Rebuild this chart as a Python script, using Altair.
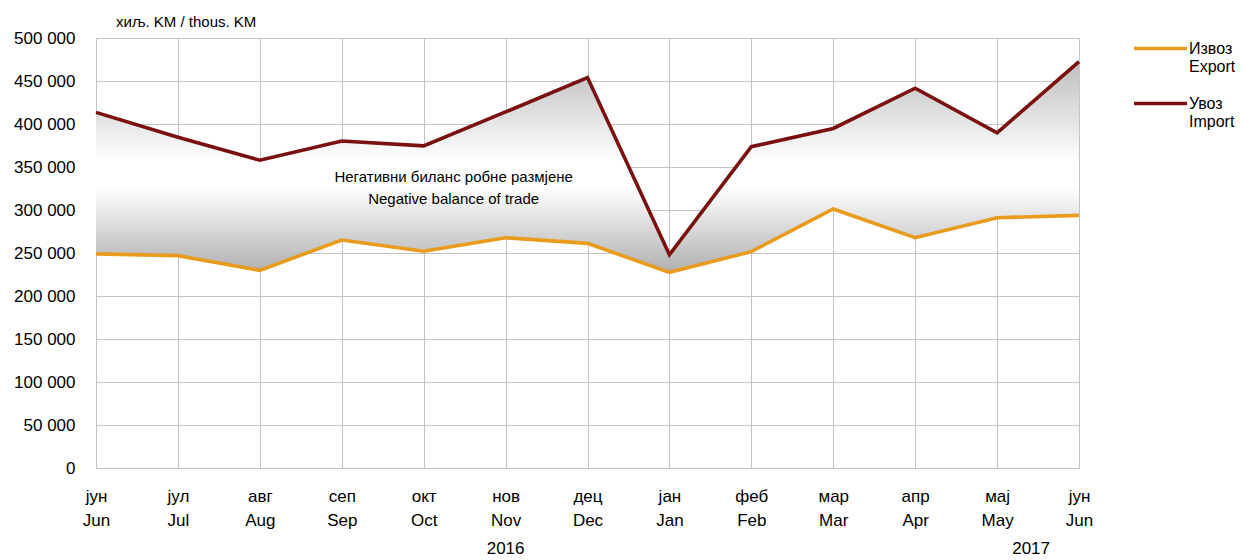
import altair as alt
import pandas as pd

months_sr = ["јун", "јул", "авг", "сеп", "окт", "нов", "дец", "јан", "феб", "мар", "апр", "мај", "јун"]
months_en = ["Jun", "Jul", "Aug", "Sep", "Oct", "Nov", "Dec", "Jan", "Feb", "Mar", "Apr", "May", "Jun"]
import_vals = [413500, 384700, 357900, 380200, 374600, 414000, 454000, 248000, 373600, 394800, 441600, 389800, 472600]
export_vals = [249000, 246900, 229800, 265100, 252000, 267800, 261200, 227500, 251600, 301200, 267800, 291000, 293800]
series_names = ["Извоз|Export", "Увоз|Import"]
series_colors = ["#E89B1C", "#7A1010"]
years = ["2016", "2017"]
year_month_idx = [5, 11]
year_dx = [0, 34]
annotation_text = "Негативни биланс робне размјене\nNegative balance of trade"
annotation_idx = 4
annotation_value = 338400
y_ticks = list(range(0, 500001, 50000))

keys = [f"{sr}|{en}|{i}" for i, (sr, en) in enumerate(zip(months_sr, months_en))]

wide = pd.DataFrame({"key": keys, "imp": import_vals, "exp": export_vals})
long = pd.DataFrame({
    "key": keys * 2,
    "value": export_vals + import_vals,
    "series": [series_names[0]] * len(keys) + [series_names[1]] * len(keys),
})
years_df = pd.DataFrame({"key": [keys[i] for i in year_month_idx], "year": years, "dx": year_dx})
ann_df = pd.DataFrame({"key": [keys[annotation_idx]], "value": [annotation_value], "text": [annotation_text]})

FONT = "Liberation Sans, Arial, sans-serif"
LBL = 17

x_enc = alt.X(
    "key:N", sort=keys,
    scale=alt.Scale(type="point", padding=0),
    axis=alt.Axis(
        title=None,
        labelExpr="[split(datum.value,'|')[0], split(datum.value,'|')[1]]",
        labelAngle=0, ticks=False, domain=False, grid=True, gridColor="#c4c4c4",
        labelFont=FONT, labelFontSize=LBL, labelColor="black",
        labelPadding=20, labelLineHeight=24, labelBaseline="top",
    ),
)
y_scale = alt.Scale(domain=[0, 500000], nice=False)
y_axis = alt.Axis(
    title=None, values=y_ticks,
    labelExpr="datum.value == 0 ? '0' : format(datum.value / 1000, 'd') + ' 000'",
    ticks=False, domain=False, grid=True, gridColor="#c4c4c4",
    labelFont=FONT, labelFontSize=LBL, labelColor="black", labelPadding=21,
)

gradient = alt.LinearGradient(
    gradient="linear",
    stops=[
        alt.GradientStop(offset=0, color="#bdbdbd"),
        alt.GradientStop(offset=0.47, color="#ffffff"),
        alt.GradientStop(offset=0.6, color="#ffffff"),
        alt.GradientStop(offset=1, color="#afafaf"),
    ],
    x1=0, x2=0, y1=0, y2=1,
)

area = alt.Chart(wide).mark_area(color=gradient, opacity=1).encode(
    x=x_enc,
    y=alt.Y("imp:Q", scale=y_scale, axis=y_axis),
    y2="exp:Q",
)

lines = alt.Chart(long).mark_line(strokeWidth=3.6).encode(
    x=x_enc,
    y=alt.Y("value:Q", scale=y_scale, axis=y_axis),
    color=alt.Color(
        "series:N",
        scale=alt.Scale(domain=series_names, range=series_colors),
        legend=alt.Legend(
            title=None, orient="none", legendX=1036, legendY=-18,
            symbolType="stroke", symbolSize=2809, symbolStrokeWidth=3.6,
            labelExpr="split(datum.label, '|')",
            labelFont=FONT, labelFontSize=16, labelColor="black",
            labelBaseline="middle", labelOffset=0,
            rowPadding=-11, padding=0, labelLimit=200,
        ),
    ),
)

ann = alt.Chart(ann_df).mark_text(
    font=FONT, fontSize=15, color="black", align="center", baseline="middle",
    lineBreak="\n", lineHeight=22, dx=30,
).encode(x=x_enc, y=alt.Y("value:Q", scale=y_scale, axis=y_axis), text="text:N")

year_layers = []
for i in range(len(years)):
    year_layers.append(
        alt.Chart(years_df.iloc[[i]]).mark_text(
            font=FONT, fontSize=LBL, color="black", align="center", baseline="middle", dx=int(year_dx[i]),
        ).encode(x=x_enc, y=alt.value(511), text="year:N")
    )

chart = alt.layer(area, lines, ann, *year_layers).properties(
    width=983, height=430,
    title=alt.TitleParams(
        text="хиљ. KM / thous. KM", anchor="start", frame="group",
        font=FONT, fontSize=15, fontWeight="normal", color="black", dx=20, offset=-10,
    ),
    autosize=alt.AutoSizeParams(type="none"),
    padding={"left": 88, "top": 30, "right": 156, "bottom": 92},
).configure_view(
    fill="#f0f0f0", stroke="#8c8c8c", strokeWidth=1,
).configure(background="white")

chart.save("out.html", embed_options={"renderer": "svg", "actions": False})
